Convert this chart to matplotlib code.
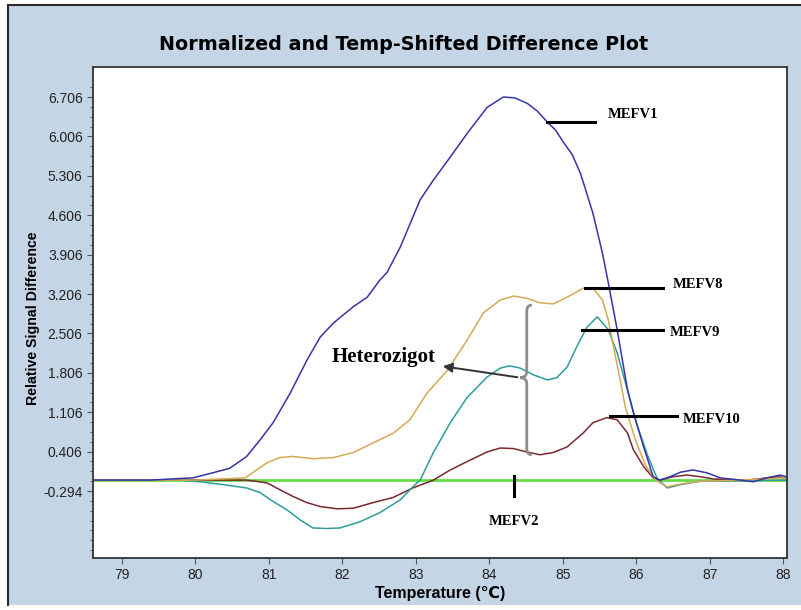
import matplotlib
matplotlib.use("Agg")
import matplotlib.pyplot as plt
from matplotlib.patches import Rectangle, PathPatch
from matplotlib.path import Path
import numpy as np

# melt curves: temperature (C) and relative signal difference
mefv1_t = [78.61, 79.39, 79.97, 80.24, 80.47, 80.70, 80.88, 81.06, 81.29, 81.52, 81.70, 81.88,
           82.15, 82.34, 82.51, 82.61, 82.79, 83.06, 83.24, 83.47, 83.70, 83.97, 84.19, 84.35,
           84.52, 84.65, 84.79, 84.90, 85.01, 85.13, 85.24, 85.32, 85.41, 85.54, 85.62, 85.74,
           85.88, 85.96, 86.10, 86.23, 86.32, 86.46, 86.60, 86.77, 86.96, 87.14, 87.41, 87.59,
           87.78, 87.96, 88.04]
mefv1_v = [-0.10, -0.10, -0.06, 0.03, 0.11, 0.32, 0.61, 0.92, 1.44, 2.03, 2.44, 2.69,
           2.98, 3.15, 3.45, 3.59, 4.04, 4.88, 5.23, 5.64, 6.06, 6.52, 6.706, 6.69,
           6.59, 6.46, 6.26, 6.12, 5.90, 5.68, 5.35, 5.02, 4.64, 3.93, 3.40, 2.57,
           1.51, 1.10, 0.49, -0.04, -0.10, -0.04, 0.04, 0.08, 0.03, -0.06, -0.10, -0.13,
           -0.06, -0.01, -0.04]

mefv8_t = [78.61, 80.0, 80.68, 80.79, 80.98, 81.15, 81.33, 81.60, 81.88, 82.15, 82.42, 82.69,
           82.92, 83.15, 83.43, 83.70, 83.92, 84.15, 84.33, 84.51, 84.69, 84.87, 85.06, 85.28,
           85.41, 85.54, 85.62, 85.69, 85.78, 85.85, 85.99, 86.12, 86.26, 86.42, 86.60, 86.87,
           87.41, 88.04]
mefv8_v = [-0.10, -0.10, -0.06, 0.04, 0.21, 0.30, 0.32, 0.28, 0.30, 0.39, 0.56, 0.73,
           0.97, 1.44, 1.85, 2.39, 2.87, 3.10, 3.17, 3.13, 3.05, 3.03, 3.15, 3.31,
           3.31, 3.10, 2.74, 2.27, 1.68, 1.20, 0.61, 0.18, -0.10, -0.22, -0.17, -0.12,
           -0.10, -0.06]

mefv9_t = [78.61, 79.79, 80.07, 80.38, 80.70, 80.88, 81.06, 81.25, 81.43, 81.60, 81.79, 81.97,
           82.24, 82.51, 82.79, 82.96, 83.06, 83.24, 83.47, 83.70, 83.97, 84.15, 84.28, 84.42,
           84.60, 84.79, 84.92, 85.06, 85.19, 85.33, 85.47, 85.62, 85.74, 85.88, 86.01, 86.15,
           86.28, 86.42, 86.60, 86.87, 88.04]
mefv9_v = [-0.10, -0.10, -0.13, -0.18, -0.24, -0.32, -0.48, -0.63, -0.81, -0.95, -0.96, -0.95,
           -0.84, -0.68, -0.45, -0.22, -0.10, 0.39, 0.92, 1.37, 1.73, 1.89, 1.93, 1.89,
           1.77, 1.68, 1.72, 1.91, 2.27, 2.62, 2.80, 2.57, 2.16, 1.50, 0.88, 0.35,
           -0.06, -0.24, -0.18, -0.12, -0.10]

mefv10_t = [78.61, 80.70, 80.98, 81.15, 81.33, 81.52, 81.70, 81.93, 82.15, 82.42, 82.69, 82.96,
            83.24, 83.47, 83.70, 83.97, 84.15, 84.33, 84.51, 84.69, 84.87, 85.06, 85.28, 85.41,
            85.60, 85.74, 85.88, 85.96, 86.10, 86.23, 86.32, 86.50, 86.69, 86.87, 87.05, 87.51,
            87.92, 88.04]
mefv10_v = [-0.10, -0.10, -0.15, -0.27, -0.39, -0.50, -0.57, -0.61, -0.60, -0.50, -0.41, -0.24,
            -0.10, 0.08, 0.23, 0.40, 0.47, 0.46, 0.40, 0.35, 0.39, 0.49, 0.74, 0.92,
            1.01, 0.97, 0.74, 0.44, 0.14, -0.06, -0.10, -0.04, -0.01, -0.04, -0.08, -0.10,
            -0.04, -0.06]

# MEFV2 is the flat reference
mefv2_t = [78.61, 88.04]
mefv2_v = [-0.10, -0.10]

y_ticks = [-0.294 + 0.7 * k for k in range(11)]
x_ticks = list(range(79, 89))

panel = "#c4d5e6"
fig = plt.figure(figsize=(8.01, 6.10), dpi=100, facecolor="white")
fig.patches.append(Rectangle((8 / 801, 5 / 610), 1.0, 600 / 610, transform=fig.transFigure,
                             facecolor=panel, edgecolor="none", zorder=-10))
fig.add_artist(plt.Line2D([8 / 801, 8 / 801], [5 / 610, 605 / 610], color="#2a2a2a", lw=1.5,
                          transform=fig.transFigure, zorder=-5))
fig.add_artist(plt.Line2D([8 / 801, 1.0], [605 / 610, 605 / 610], color="#2a2a2a", lw=1.5,
                          transform=fig.transFigure, zorder=-5))

ax = fig.add_axes([93 / 801, 1 - 558 / 610, 694 / 801, 491 / 610])
ax.set_zorder(1)
ax.set_facecolor("white")

ax.plot(mefv2_t, mefv2_v, color="#66dd44", lw=2.0, zorder=1)
ax.plot(mefv10_t, mefv10_v, color="#7a2830", lw=1.1, zorder=2)
ax.plot(mefv9_t, mefv9_v, color="#2f9c9c", lw=1.1, zorder=2)
ax.plot(mefv8_t, mefv8_v, color="#d4aa55", lw=1.1, zorder=2)
ax.plot(mefv1_t, mefv1_v, color="#3535a8", lw=1.1, zorder=3)

ax.set_xlim(78.61, 88.05)
ax.set_ylim(-1.484, 7.239)
ax.set_xticks(x_ticks)
ax.set_yticks(y_ticks)
ax.set_yticks(np.arange(-1.344, 7.0, 0.175), minor=True)
ax.set_yticklabels([f"{v:.3f}" for v in y_ticks])
ax.tick_params(axis="both", direction="out", color="#555555", labelcolor="#222222",
               labelsize=10, length=4, width=0.8)
ax.tick_params(axis="y", which="minor", direction="out", length=2.5, color="#555555")
for lab in ax.get_xticklabels() + ax.get_yticklabels():
    lab.set_family("Liberation Sans")
for s in ax.spines.values():
    s.set_color("#333333")
    s.set_linewidth(1.3)

fig.text(404 / 801, 1 - 45 / 610, "Normalized and Temp-Shifted Difference Plot",
         ha="center", va="center", fontsize=13.8, fontweight="bold", family="DejaVu Sans")
fig.text(33 / 801, 1 - 318 / 610, "Relative Signal Difference", rotation=90,
         ha="center", va="center", fontsize=10.2, fontweight="bold", family="Liberation Sans")
fig.text(440 / 801, 1 - 593 / 610, "Temperature (℃)", ha="center", va="center",
         fontsize=11.5, fontweight="bold", family=["Liberation Sans", "DejaVu Sans"])

# curve labels: name, leader x-range, leader y, text x, text y
serif = dict(family="Liberation Serif", fontweight="bold", fontsize=10.5, va="center")
labels = [("MEFV1", (84.79, 85.44), 6.26, 85.61, 6.39),
          ("MEFV8", (85.30, 86.37), 3.31, 86.50, 3.37),
          ("MEFV9", (85.26, 86.37), 2.56, 86.46, 2.53),
          ("MEFV10", (85.64, 86.55), 1.03, 86.63, 0.97)]
for name, (x0, x1), ly, tx, ty in labels:
    ax.plot([x0, x1], [ly, ly], color="black", lw=2.2, zorder=5)
    ax.text(tx, ty, name, **serif)

ax.plot([84.34, 84.34], [-0.03, -0.39], color="black", lw=2.2, zorder=5)
ax.text(84.34, -0.84, "MEFV2", ha="center", **serif)

# bracket grouping the heterozygous curves
bx, tip = 84.51, 84.42
verts = [(84.58, 3.01), (bx, 3.01), (bx, 2.90),
         (bx, 1.83),
         (bx, 1.72), (tip, 1.72),
         (bx, 1.72), (bx, 1.61),
         (bx, 0.46),
         (bx, 0.35), (84.58, 0.35)]
codes = [Path.MOVETO, Path.CURVE3, Path.CURVE3, Path.LINETO, Path.CURVE3, Path.CURVE3,
         Path.CURVE3, Path.CURVE3, Path.LINETO, Path.CURVE3, Path.CURVE3]
ax.add_patch(PathPatch(Path(verts, codes), facecolor="none", edgecolor="#8c8c8c", lw=2, zorder=4))
ax.annotate("", xy=(83.33, 1.93), xytext=(tip, 1.72),
            arrowprops=dict(arrowstyle="-|>", color="#333333", lw=1.4, mutation_scale=14), zorder=5)
ax.text(82.56, 2.09, "Heterozigot", ha="center", va="center", family="Liberation Serif",
        fontweight="bold", fontsize=15)

fig.savefig("out.png", dpi=100)
